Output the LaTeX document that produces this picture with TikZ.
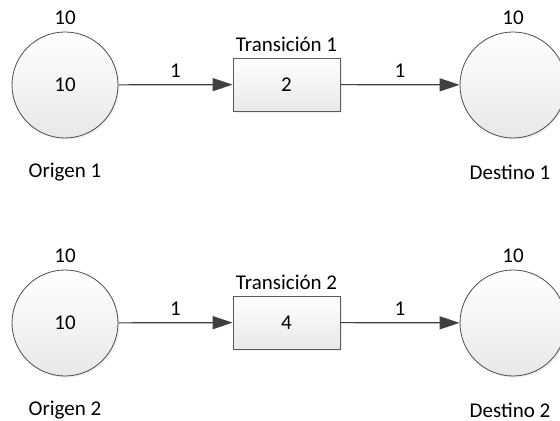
\documentclass[tikz,border=0pt]{standalone}
\usepackage{fontspec}
\setmainfont{Carlito}
\usetikzlibrary{arrows.meta, positioning, shadows}

\tikzset{
  lugar/.style={circle, draw=black!70, line width=0.4pt, top color=white, bottom color=black!9,
    minimum size=53pt, inner sep=0pt, drop shadow={shadow xshift=0.8pt, shadow yshift=-0.8pt, opacity=0.12}},
  transicion/.style={rectangle, draw=black!65, line width=0.4pt, top color=white, bottom color=black!9,
    minimum width=53.5pt, minimum height=26.5pt, inner sep=0pt, drop shadow={shadow xshift=0.8pt, shadow yshift=-0.8pt, opacity=0.12}},
  arco/.style={draw=black!75, line width=0.6pt, -{Triangle[length=10pt, width=6.5pt]}},
}

\begin{document}
\begin{tikzpicture}[x=0.5pt, y=-0.5pt, font=\fontsize{10.5}{12}\selectfont]
  \useasboundingbox (0,0) rectangle (560,421);

  % primera red
  \node[lugar] (origen1) at (65, 85) {10};
  \node[transicion] (trans1) at (286.5, 84.5) {2};
  \node[lugar] (destino1) at (513, 85) {};

  \node (marca1) at (65, 18) {10};
  \node (nombre1) at (65, 172) {Origen 1};
  \node (tnombre1) at (286.5, 44) {Transición 1};
  \node (cap1) at (513, 18) {10};
  \node (dnombre1) at (510, 172) {Destino 1};

  \draw
  (origen1) edge[arco] node[above] {1} (trans1)
  (trans1) edge[arco] node[above] {1} (destino1);

  % segunda red
  \node[lugar] (origen2) at (65, 323) {10};
  \node[transicion] (trans2) at (286.5, 322.5) {4};
  \node[lugar] (destino2) at (513, 323) {};

  \node (marca2) at (65, 256) {10};
  \node (nombre2) at (65, 410) {Origen 2};
  \node (tnombre2) at (286.5, 282) {Transición 2};
  \node (cap2) at (513, 256) {10};
  \node (dnombre2) at (510, 410) {Destino 2};

  \draw
  (origen2) edge[arco] node[above] {1} (trans2)
  (trans2) edge[arco] node[above] {1} (destino2);
\end{tikzpicture}
\end{document}
